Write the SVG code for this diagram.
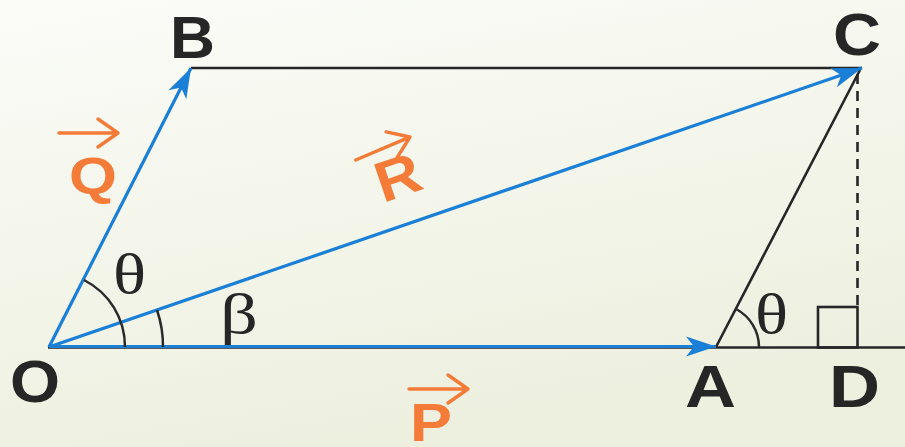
<svg xmlns="http://www.w3.org/2000/svg" width="905" height="447" viewBox="0 0 905 447">
  <defs>
    <linearGradient id="bg" x1="0" y1="0" x2="0.35" y2="1">
      <stop offset="0" stop-color="#fbfcf8"/>
      <stop offset="1" stop-color="#edf0df"/>
    </linearGradient>
    <marker id="blueHead" markerUnits="userSpaceOnUse" markerWidth="34" markerHeight="24" viewBox="-32 -12 34 24" refX="0" refY="0" orient="auto">
      <path d="M0,0 L-30,-10 L-22,0 L-30,10 Z" fill="#1a7fd6"/>
    </marker>
    <path id="vecArrow" d="M-59,0 H-1 M-20,-14 L0,0 L-20,14" fill="none" stroke="#f47b38" stroke-width="3.4" stroke-linecap="round" stroke-linejoin="round"/>
  </defs>
  <style>
    .blk { stroke: #262626; stroke-width: 2.6; fill: none; }
    .vec { stroke: #1a7fd6; stroke-width: 3.2; fill: none; }
    .arc { stroke: #2a2a2a; stroke-width: 2.5; fill: none; }
    .pt { font-family: "Liberation Sans", Arial, sans-serif; font-weight: bold; font-size: 60px; fill: #262626; }
    .vl { font-family: "Liberation Sans", Arial, sans-serif; font-weight: bold; fill: #f47b38; }
    .gr { font-family: "Liberation Serif", "Times New Roman", serif; font-size: 56px; fill: #262626; }
  </style>
  <rect x="0" y="0" width="905" height="447" fill="url(#bg)"/>

  <g id="connectors">
    <line class="blk" x1="48" y1="347.5" x2="905" y2="347.5"/>
    <line class="blk" x1="191" y1="68" x2="862" y2="68"/>
    <line class="blk" x1="716" y1="347" x2="860" y2="70"/>
    <line class="blk" x1="857.5" y1="74" x2="857.5" y2="307" stroke-dasharray="10 7" stroke-width="2"/>
    <line class="vec" x1="49" y1="346.5" x2="716" y2="346.5" marker-end="url(#blueHead)"/>
    <line class="vec" x1="49" y1="347" x2="191" y2="68" marker-end="url(#blueHead)"/>
    <line class="vec" x1="49" y1="347" x2="862" y2="68" marker-end="url(#blueHead)"/>
  </g>

  <g id="angles">
    <path class="arc" d="M125,347 A75,75 0 0 0 84,280"/>
    <path class="arc" d="M163,347 A113,113 0 0 0 157,310"/>
    <path class="arc" d="M759,347 A43,43 0 0 0 736,309"/>
    <rect class="blk" x="818" y="307" width="39.5" height="40.5"/>
    <text class="gr" x="113" y="293" textLength="33" lengthAdjust="spacingAndGlyphs">θ</text>
    <text class="gr" x="220" y="333" textLength="38" lengthAdjust="spacingAndGlyphs">β</text>
    <text class="gr" x="755" y="333" textLength="33" lengthAdjust="spacingAndGlyphs">θ</text>
  </g>

  <g id="node-O"><text class="pt" x="10" y="402" textLength="50" lengthAdjust="spacingAndGlyphs">O</text></g>
  <g id="node-A"><text class="pt" x="685" y="407" textLength="51" lengthAdjust="spacingAndGlyphs">A</text></g>
  <g id="node-B"><text class="pt" x="170" y="58" textLength="45" lengthAdjust="spacingAndGlyphs">B</text></g>
  <g id="node-C"><text class="pt" x="833" y="55" textLength="48" lengthAdjust="spacingAndGlyphs">C</text></g>
  <g id="node-D"><text class="pt" x="829" y="407" textLength="51" lengthAdjust="spacingAndGlyphs">D</text></g>

  <g id="label-Q">
    <use href="#vecArrow" transform="translate(118,133)"/>
    <text class="vl" x="69" y="194" font-size="52" textLength="48" lengthAdjust="spacingAndGlyphs">Q</text>
  </g>
  <g id="label-P">
    <use href="#vecArrow" transform="translate(468,389)"/>
    <text class="vl" x="410" y="441" font-size="54" textLength="42" lengthAdjust="spacingAndGlyphs">P</text>
  </g>
  <g id="label-R">
    <use href="#vecArrow" transform="translate(410,137) rotate(-23)"/>
    <text class="vl" font-size="57" transform="translate(383,203) rotate(-19)" textLength="45" lengthAdjust="spacingAndGlyphs">R</text>
  </g>
</svg>
